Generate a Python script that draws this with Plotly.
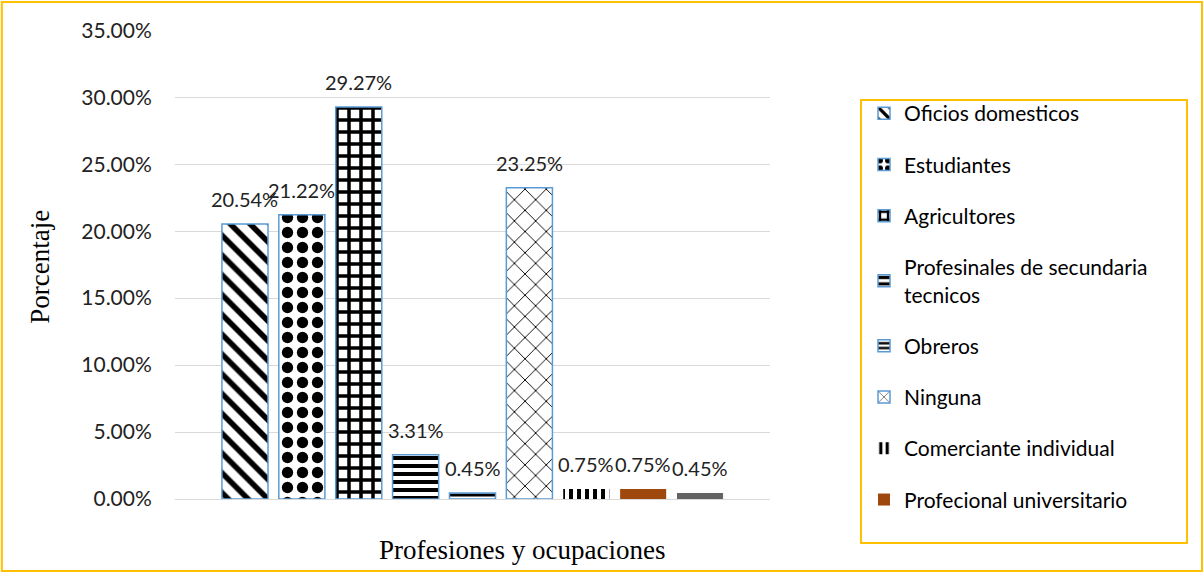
"""
Gráfico de barras: profesiones y ocupaciones
"""

import plotly.graph_objects as go

# Datos
categorias = [
    'Oficios domesticos',
    'Estudiantes',
    'Agricultores',
    'Profesinales de secundaria<br>tecnicos',
    'Obreros',
    'Ninguna',
    'Comerciante individual',
    'Profecional universitario',
    'Otros',
]
porcentajes = [0.2054, 0.2122, 0.2927, 0.0331, 0.0045, 0.2325, 0.0075, 0.0075, 0.0045]
en_leyenda = [True, True, True, True, True, True, True, True, False]
y_ticks = [0, 0.05, 0.10, 0.15, 0.20, 0.25, 0.30, 0.35]

# Estilo de cada barra (patrón, color de relleno, borde)
AZUL = '#5B9BD5'
estilos = [
    dict(shape='\\', size=14, solidity=0.4, color='white', line=AZUL),
    dict(shape='.', size=15, solidity=0.45, color='white', line=AZUL),
    dict(shape='+', size=12, solidity=0.5, color='white', line=AZUL),
    dict(shape='-', size=8, solidity=0.5, color='white', line=AZUL),
    dict(shape='-', size=6, solidity=0.5, color='white', line=AZUL),
    dict(shape='x', size=15, solidity=0.12, color='white', line=AZUL),
    dict(shape='|', size=8, solidity=0.5, color='white', line=None),
    dict(shape='', size=8, solidity=0.5, color='#9E480E', line=None),
    dict(shape='', size=8, solidity=0.5, color='#636363', line=None),
]

FUENTE = 'Lato'
SERIF = 'Liberation Serif'
TAM = 21

fig = go.Figure()

for i, (cat, val, est) in enumerate(zip(categorias, porcentajes, estilos)):
    marker = dict(color=est['color'])
    if est['shape']:
        marker['pattern'] = dict(shape=est['shape'], size=est['size'],
                                 solidity=est['solidity'], fgcolor='black',
                                 bgcolor='white', fillmode='replace')
    if est['line']:
        marker['line'] = dict(color=est['line'], width=1.5)
    else:
        marker['line'] = dict(width=0)
    fig.add_trace(go.Bar(
        x=[i], y=[val], name=cat, width=0.81,
        marker=marker, showlegend=en_leyenda[i], legendgroup=f'g{i}'
    ))

# Etiquetas de datos
for i, val in enumerate(porcentajes):
    fig.add_annotation(x=i, y=val, text=f'{val * 100:.2f}%', showarrow=False,
                       xanchor='center', yanchor='middle', yshift=25,
                       font=dict(family=FUENTE, size=20, color='#222'))

# Títulos de ejes
fig.add_annotation(xref='paper', yref='paper', x=0.583, y=-0.109,
                   xanchor='center', yanchor='middle',
                   text='Profesiones y ocupaciones', showarrow=False,
                   font=dict(family=SERIF, size=27, color='black'))
fig.add_annotation(xref='paper', yref='paper', x=-0.227, y=0.495,
                   xanchor='center', yanchor='middle',
                   text='Porcentaje', showarrow=False, textangle=-90,
                   font=dict(family=SERIF, size=27, color='black'))

# Marco de la leyenda y marco exterior
fig.add_shape(type='rect', xref='paper', yref='paper',
              x0=1.153, x1=1.7008, y0=-0.0938, y1=0.851,
              line=dict(color='#FFC000', width=2))
fig.add_shape(type='rect', xref='paper', yref='paper',
              x0=-0.291, x1=1.726, y0=-0.1535, y1=1.0597,
              line=dict(color='#FFC000', width=2))

fig.update_layout(
    width=1204, height=573,
    margin=dict(l=175, r=434, t=30, b=74),
    barmode='overlay',
    plot_bgcolor='white', paper_bgcolor='white',
    font=dict(family=FUENTE, size=TAM, color='#222'),
    legend=dict(x=1.158, y=0.8657, xanchor='left', yanchor='top',
                tracegroupgap=21, maxheight=560,
                font=dict(family=FUENTE, size=TAM, color='black'),
                bgcolor='rgba(0,0,0,0)', borderwidth=0),
    xaxis=dict(range=[-1.23, 9.23], showticklabels=False, showgrid=False,
               zeroline=False, showline=False, fixedrange=True),
    yaxis=dict(range=[0, 0.3502], tickvals=y_ticks, tickformat='.2%',
               gridcolor='#D9D9D9', gridwidth=1, zeroline=True,
               zerolinecolor='#D9D9D9', zerolinewidth=1, showline=False,
               ticks='outside', ticklen=18, tickcolor='rgba(0,0,0,0)',
               tickfont=dict(family=FUENTE, size=TAM, color='#222')),
)

# sin margen del body para que la figura ocupe toda la ventana
fig.write_html("out.html", config={'displayModeBar': False},
               post_script="document.body.style.margin='0';")
